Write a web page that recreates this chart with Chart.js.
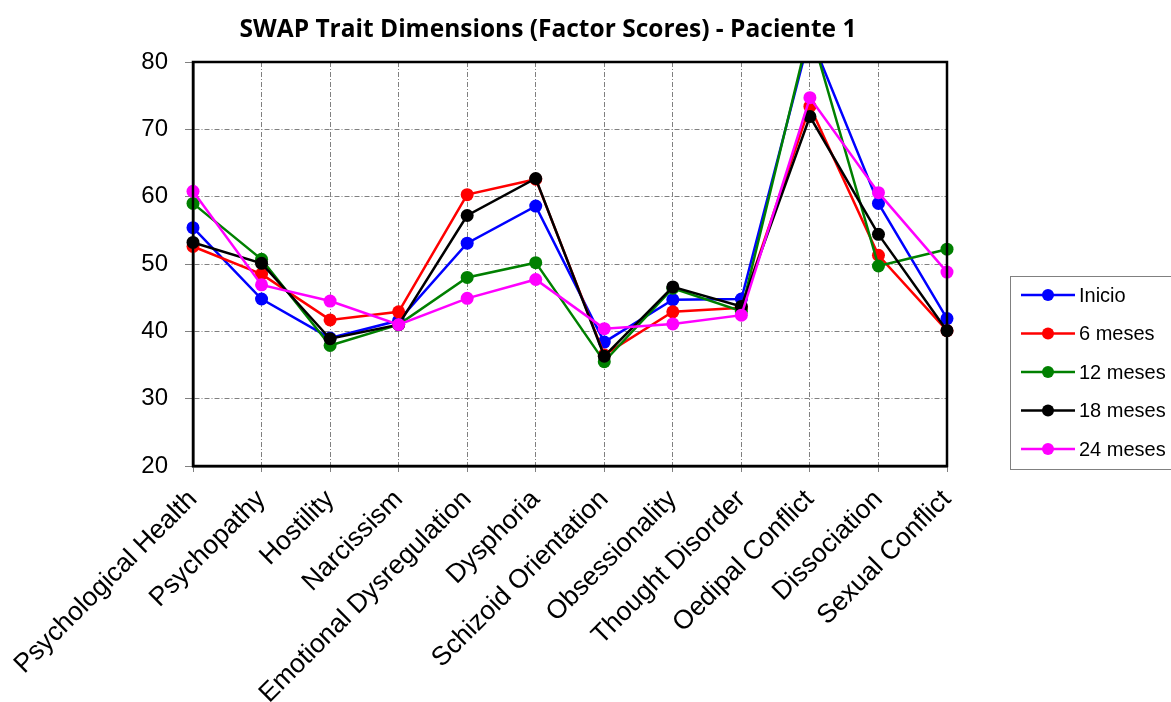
<!DOCTYPE html>
<html>
<head>
<meta charset="utf-8">
<title>SWAP Trait Dimensions - Paciente 1</title>
<script src="https://cdn.jsdelivr.net/npm/chart.js@4.4.1/dist/chart.umd.min.js"></script>
<style>
    html, body { margin: 0; padding: 0; background: #fff; }
    #wrap { width: 1171px; height: 702px; }
</style>
</head>
<body>
<div id="wrap"><canvas id="swapChart" width="1171" height="702"></canvas></div>
<script>
const categories = ['Psychological Health', 'Psychopathy', 'Hostility', 'Narcissism',
    'Emotional Dysregulation', 'Dysphoria', 'Schizoid Orientation', 'Obsessionality',
    'Thought Disorder', 'Oedipal Conflict', 'Dissociation', 'Sexual Conflict'];

const inicio  = [55.4, 44.8, 39.0, 41.6, 53.1, 58.6, 38.4, 44.7, 44.8, 84.0, 59.0, 41.9];
const meses6  = [52.6, 48.5, 41.7, 42.9, 60.3, 62.6, 36.5, 42.9, 43.5, 73.4, 51.3, 40.1];
const meses12 = [59.0, 50.7, 37.9, 41.0, 48.0, 50.2, 35.5, 46.4, 43.0, 85.0, 49.7, 52.2];
const meses18 = [53.2, 50.1, 38.9, 41.0, 57.2, 62.7, 36.3, 46.6, 43.7, 71.9, 54.4, 40.1];
const meses24 = [60.8, 46.9, 44.5, 41.0, 44.9, 47.7, 40.4, 41.1, 42.4, 74.7, 60.6, 48.8];

const seriesNames = ['Inicio', '6 meses', '12 meses', '18 meses', '24 meses'];
const seriesColors = ['#0000ff', '#ff0000', '#008000', '#000000', '#ff00ff'];
const yTicks = [20, 30, 40, 50, 60, 70, 80];

const titleText = 'SWAP Trait Dimensions (Factor Scores) - Paciente 1';

function makeSet(i, values) {
    return {
        label: seriesNames[i],
        data: values,
        borderColor: seriesColors[i],
        backgroundColor: seriesColors[i],
        pointBackgroundColor: seriesColors[i],
        pointBorderColor: seriesColors[i],
        borderWidth: 2.5,
        pointRadius: 6.5,
        pointBorderWidth: 0,
        pointHoverRadius: 6.5,
        tension: 0,
        // recorta solo por arriba, los puntos de los bordes se ven enteros
        clip: { left: 10, right: 10, top: 0, bottom: 10 },
        order: 5 - i
    };
}

// titulo, marco y leyenda dibujados a mano
const decor = {
    id: 'decor',
    afterDatasetsDraw(chart) {
        const ctx = chart.ctx;
        const a = chart.chartArea;
        ctx.save();
        ctx.strokeStyle = '#000';
        ctx.lineWidth = 2.5;
        ctx.strokeRect(a.left, a.top, a.right - a.left, a.bottom - a.top);
        ctx.restore();
    },
    afterDraw(chart) {
        const ctx = chart.ctx;
        ctx.save();
        ctx.fillStyle = '#000';
        ctx.font = 'bold 24.5px "Open Sans"';
        ctx.textAlign = 'center';
        ctx.textBaseline = 'middle';
        ctx.fillText(titleText, 548, 30);

        // leyenda
        ctx.strokeStyle = '#808080';
        ctx.lineWidth = 1;
        ctx.strokeRect(1010.5, 276.5, 170, 193);
        ctx.font = '20px "Liberation Sans"';
        ctx.textAlign = 'left';
        chart.data.datasets.forEach((ds, i) => {
            const y = 295 + i * 38.5;
            ctx.strokeStyle = ds.borderColor;
            ctx.lineWidth = 2.5;
            ctx.beginPath();
            ctx.moveTo(1021, y);
            ctx.lineTo(1075, y);
            ctx.stroke();
            ctx.fillStyle = ds.borderColor;
            ctx.beginPath();
            ctx.arc(1048, y, 6, 0, Math.PI * 2);
            ctx.fill();
            ctx.fillStyle = '#000';
            ctx.fillText(ds.label, 1079, y + 1);
        });
        ctx.restore();
    }
};

new Chart(document.getElementById('swapChart'), {
    type: 'line',
    data: {
        labels: categories,
        datasets: [
            makeSet(0, inicio),
            makeSet(1, meses6),
            makeSet(2, meses12),
            makeSet(3, meses18),
            makeSet(4, meses24)
        ]
    },
    options: {
        responsive: false,
        animation: false,
        layout: { padding: { top: 62, right: 224, left: 0, bottom: 0 } },
        plugins: {
            legend: { display: false },
            title: { display: false },
            tooltip: { enabled: false }
        },
        scales: {
            x: {
                type: 'category',
                offset: false,
                grid: {
                    color: '#808080',
                    lineWidth: 1,
                    tickLength: 6,
                    tickColor: '#808080',
                    tickBorderDash: []
                },
                border: { display: true, color: '#000', width: 2.5, dash: [5, 2, 1, 2] },
                ticks: {
                    color: '#000',
                    font: { family: '"Liberation Sans"', size: 26.5 },
                    maxRotation: 45,
                    minRotation: 45,
                    autoSkip: false,
                    padding: 12
                },
                afterFit(scale) {
                    scale.height = 236;
                    scale.paddingLeft = 0;
                    scale.paddingRight = 0;
                }
            },
            y: {
                min: 20,
                max: 80,
                afterBuildTicks(scale) {
                    scale.ticks = yTicks.map(v => ({ value: v }));
                },
                grid: {
                    color: '#808080',
                    lineWidth: 1,
                    tickLength: 8,
                    tickColor: '#808080',
                    tickBorderDash: []
                },
                border: { display: true, color: '#000', width: 2.5, dash: [5, 2, 1, 2] },
                ticks: {
                    color: '#000',
                    font: { family: '"Liberation Sans"', size: 24 },
                    padding: 17
                },
                afterFit(scale) {
                    scale.width = 193;
                }
            }
        }
    },
    plugins: [decor]
});
</script>
</body>
</html>
